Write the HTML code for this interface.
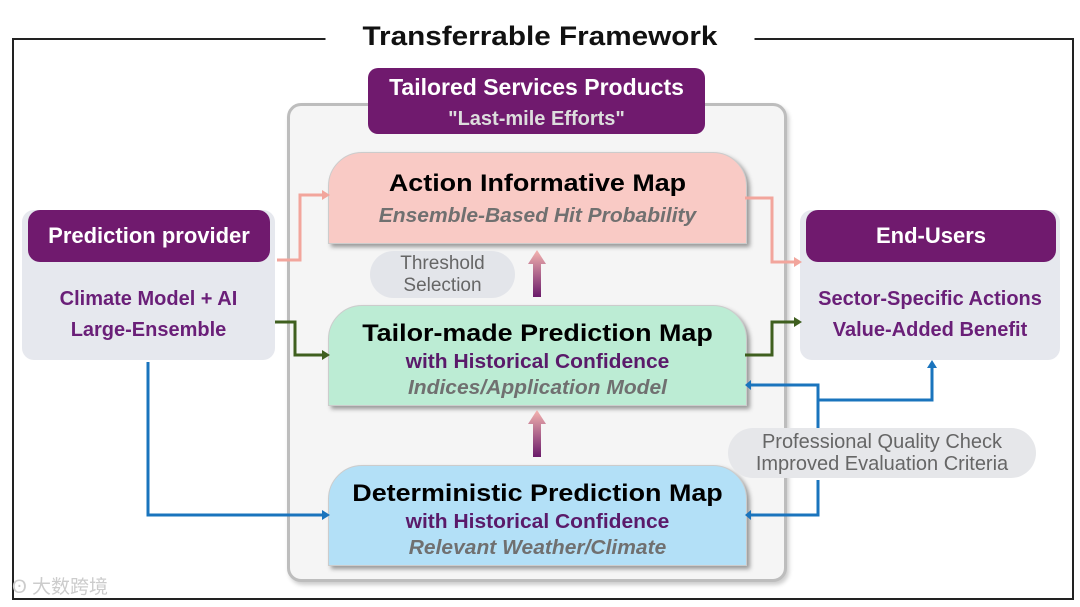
<!DOCTYPE html>
<html><head><style>
body{margin:0;width:1080px;height:607px;background:#fff;position:relative;overflow:hidden;font-family:"Liberation Sans",sans-serif}
.a{position:absolute}
.c{text-align:center}
.map{position:absolute;left:328px;width:417px;border-radius:34px 34px 0 0;box-shadow:3px 3px 4px #999;border:1px solid #ccc;text-align:center}
.t{font-weight:bold;font-size:24px;color:#000;transform:scaleX(1.12)}
.s{font-weight:bold;font-size:20px;color:#5a1a6a;transform:scaleX(1.05)}
.i{font-weight:bold;font-style:italic;font-size:20px;color:#707070;transform:scaleX(1.05)}
</style></head><body>
<div class="a" style="left:12px;top:38px;width:1058px;height:558px;border:2px solid #222"></div>
<div class="a c" style="left:345px;top:21px;width:390px;background:#fff;font-weight:bold;font-size:27px;color:#111;transform:scaleX(1.1)">Transferrable Framework</div>
<div class="a" style="left:287px;top:103px;width:494px;height:473px;background:#f5f5f5;border:3px solid #bdbdbd;border-radius:14px;box-shadow:2px 3px 4px #ccc"></div>
<div class="a c" style="left:368px;top:68px;width:337px;height:66px;background:#701a6e;border-radius:10px;color:#fff;font-weight:bold;font-size:23px;line-height:30px;padding-top:4px;box-sizing:border-box">Tailored Services Products<br><span style="font-size:20px;color:#ddd">"Last-mile Efforts"</span></div>

<div class="map" style="top:152px;height:90px;background:#f9cac5"><div class="t" style="margin-top:17px">Action Informative Map</div><div class="i" style="margin-top:7px">Ensemble-Based Hit Probability</div></div>
<div class="a c" style="left:370px;top:251px;width:145px;height:47px;background:#e3e5ea;border-radius:24px;color:#666;font-size:19px;line-height:22px;padding-top:2px;box-sizing:border-box">Threshold<br>Selection</div>
<div class="map" style="top:305px;height:99px;background:#bcecd4"><div class="t" style="margin-top:14px">Tailor-made Prediction Map</div><div class="s" style="margin-top:3px">with Historical Confidence</div><div class="i" style="margin-top:3px">Indices/Application Model</div></div>
<div class="map" style="top:465px;height:99px;background:#b3e0f7"><div class="t" style="margin-top:14px">Deterministic Prediction Map</div><div class="s" style="margin-top:3px">with Historical Confidence</div><div class="i" style="margin-top:3px">Relevant Weather/Climate</div></div>
<div class="a c" style="left:728px;top:428px;width:308px;height:50px;background:#e6e7ea;border-radius:25px;color:#666;font-size:20px;line-height:22px;padding-top:3px;box-sizing:border-box">Professional Quality Check<br>Improved Evaluation Criteria</div>

<div class="a" style="left:22px;top:210px;width:253px;height:150px;background:#e6e8ee;border-radius:12px"></div>
<div class="a c" style="left:28px;top:210px;width:242px;height:52px;background:#701a6e;border-radius:12px;color:#fff;font-weight:bold;font-size:22px;line-height:52px">Prediction provider</div>
<div class="a c" style="left:22px;top:284px;width:253px;font-weight:bold;font-size:20px;color:#6a1f78;line-height:31px">Climate Model + AI<br>Large-Ensemble</div>
<div class="a" style="left:800px;top:210px;width:260px;height:150px;background:#e6e8ee;border-radius:12px"></div>
<div class="a c" style="left:806px;top:210px;width:250px;height:52px;background:#701a6e;border-radius:12px;color:#fff;font-weight:bold;font-size:22px;line-height:52px">End-Users</div>
<div class="a c" style="left:800px;top:284px;width:260px;font-weight:bold;font-size:20px;color:#6a1f78;line-height:31px">Sector-Specific Actions<br>Value-Added Benefit</div>

<svg class="a" style="left:0;top:0" width="1080" height="607">
<defs>
<linearGradient id="g" x1="0" y1="1" x2="0" y2="0"><stop offset="0" stop-color="#6a1a6a"/><stop offset="1" stop-color="#f5b5b0"/></linearGradient>
</defs>
<g fill="none" stroke-width="3">
<polyline stroke="#f2a59c" points="277,260 300,260 300,195 322,195"/>
<polyline stroke="#f2a59c" points="745,198 772,198 772,262 794,262"/>
<polyline stroke="#3f5f1f" points="275,322 295,322 295,355 322,355"/>
<polyline stroke="#3f5f1f" points="745,355 772,355 772,322 794,322"/>
<g stroke="#1a74bd"><polyline points="148,362 148,515 322,515"/>
<polyline points="751,385 818,385 818,428"/><polyline points="818,400 932,400 932,368"/>
<polyline points="818,480 818,515 751,515"/></g>
</g>
<polygon fill="#f2a59c" points="322,190 330,195 322,200"/><polygon fill="#f2a59c" points="794,257 802,262 794,267"/>
<polygon fill="#3f5f1f" points="322,350 330,355 322,360"/><polygon fill="#3f5f1f" points="794,317 802,322 794,327"/>
<g fill="#1a74bd"><polygon points="322,510 330,515 322,520"/><polygon points="751,380 745,385 751,390"/><polygon points="751,510 745,515 751,520"/><polygon points="927,368 932,360 937,368"/></g>
<polygon fill="url(#g)" points="537,250 546,264 541,264 541,297 533,297 533,264 528,264"/>
<polygon fill="url(#g)" points="537,410 546,424 541,424 541,457 533,457 533,424 528,424"/>
</svg>
<div class="a" style="left:12px;top:572px;color:#ccc;font-size:19px;font-family:'Liberation Sans','Noto Sans CJK SC',sans-serif">ʘ 大数跨境</div>
</body></html>
